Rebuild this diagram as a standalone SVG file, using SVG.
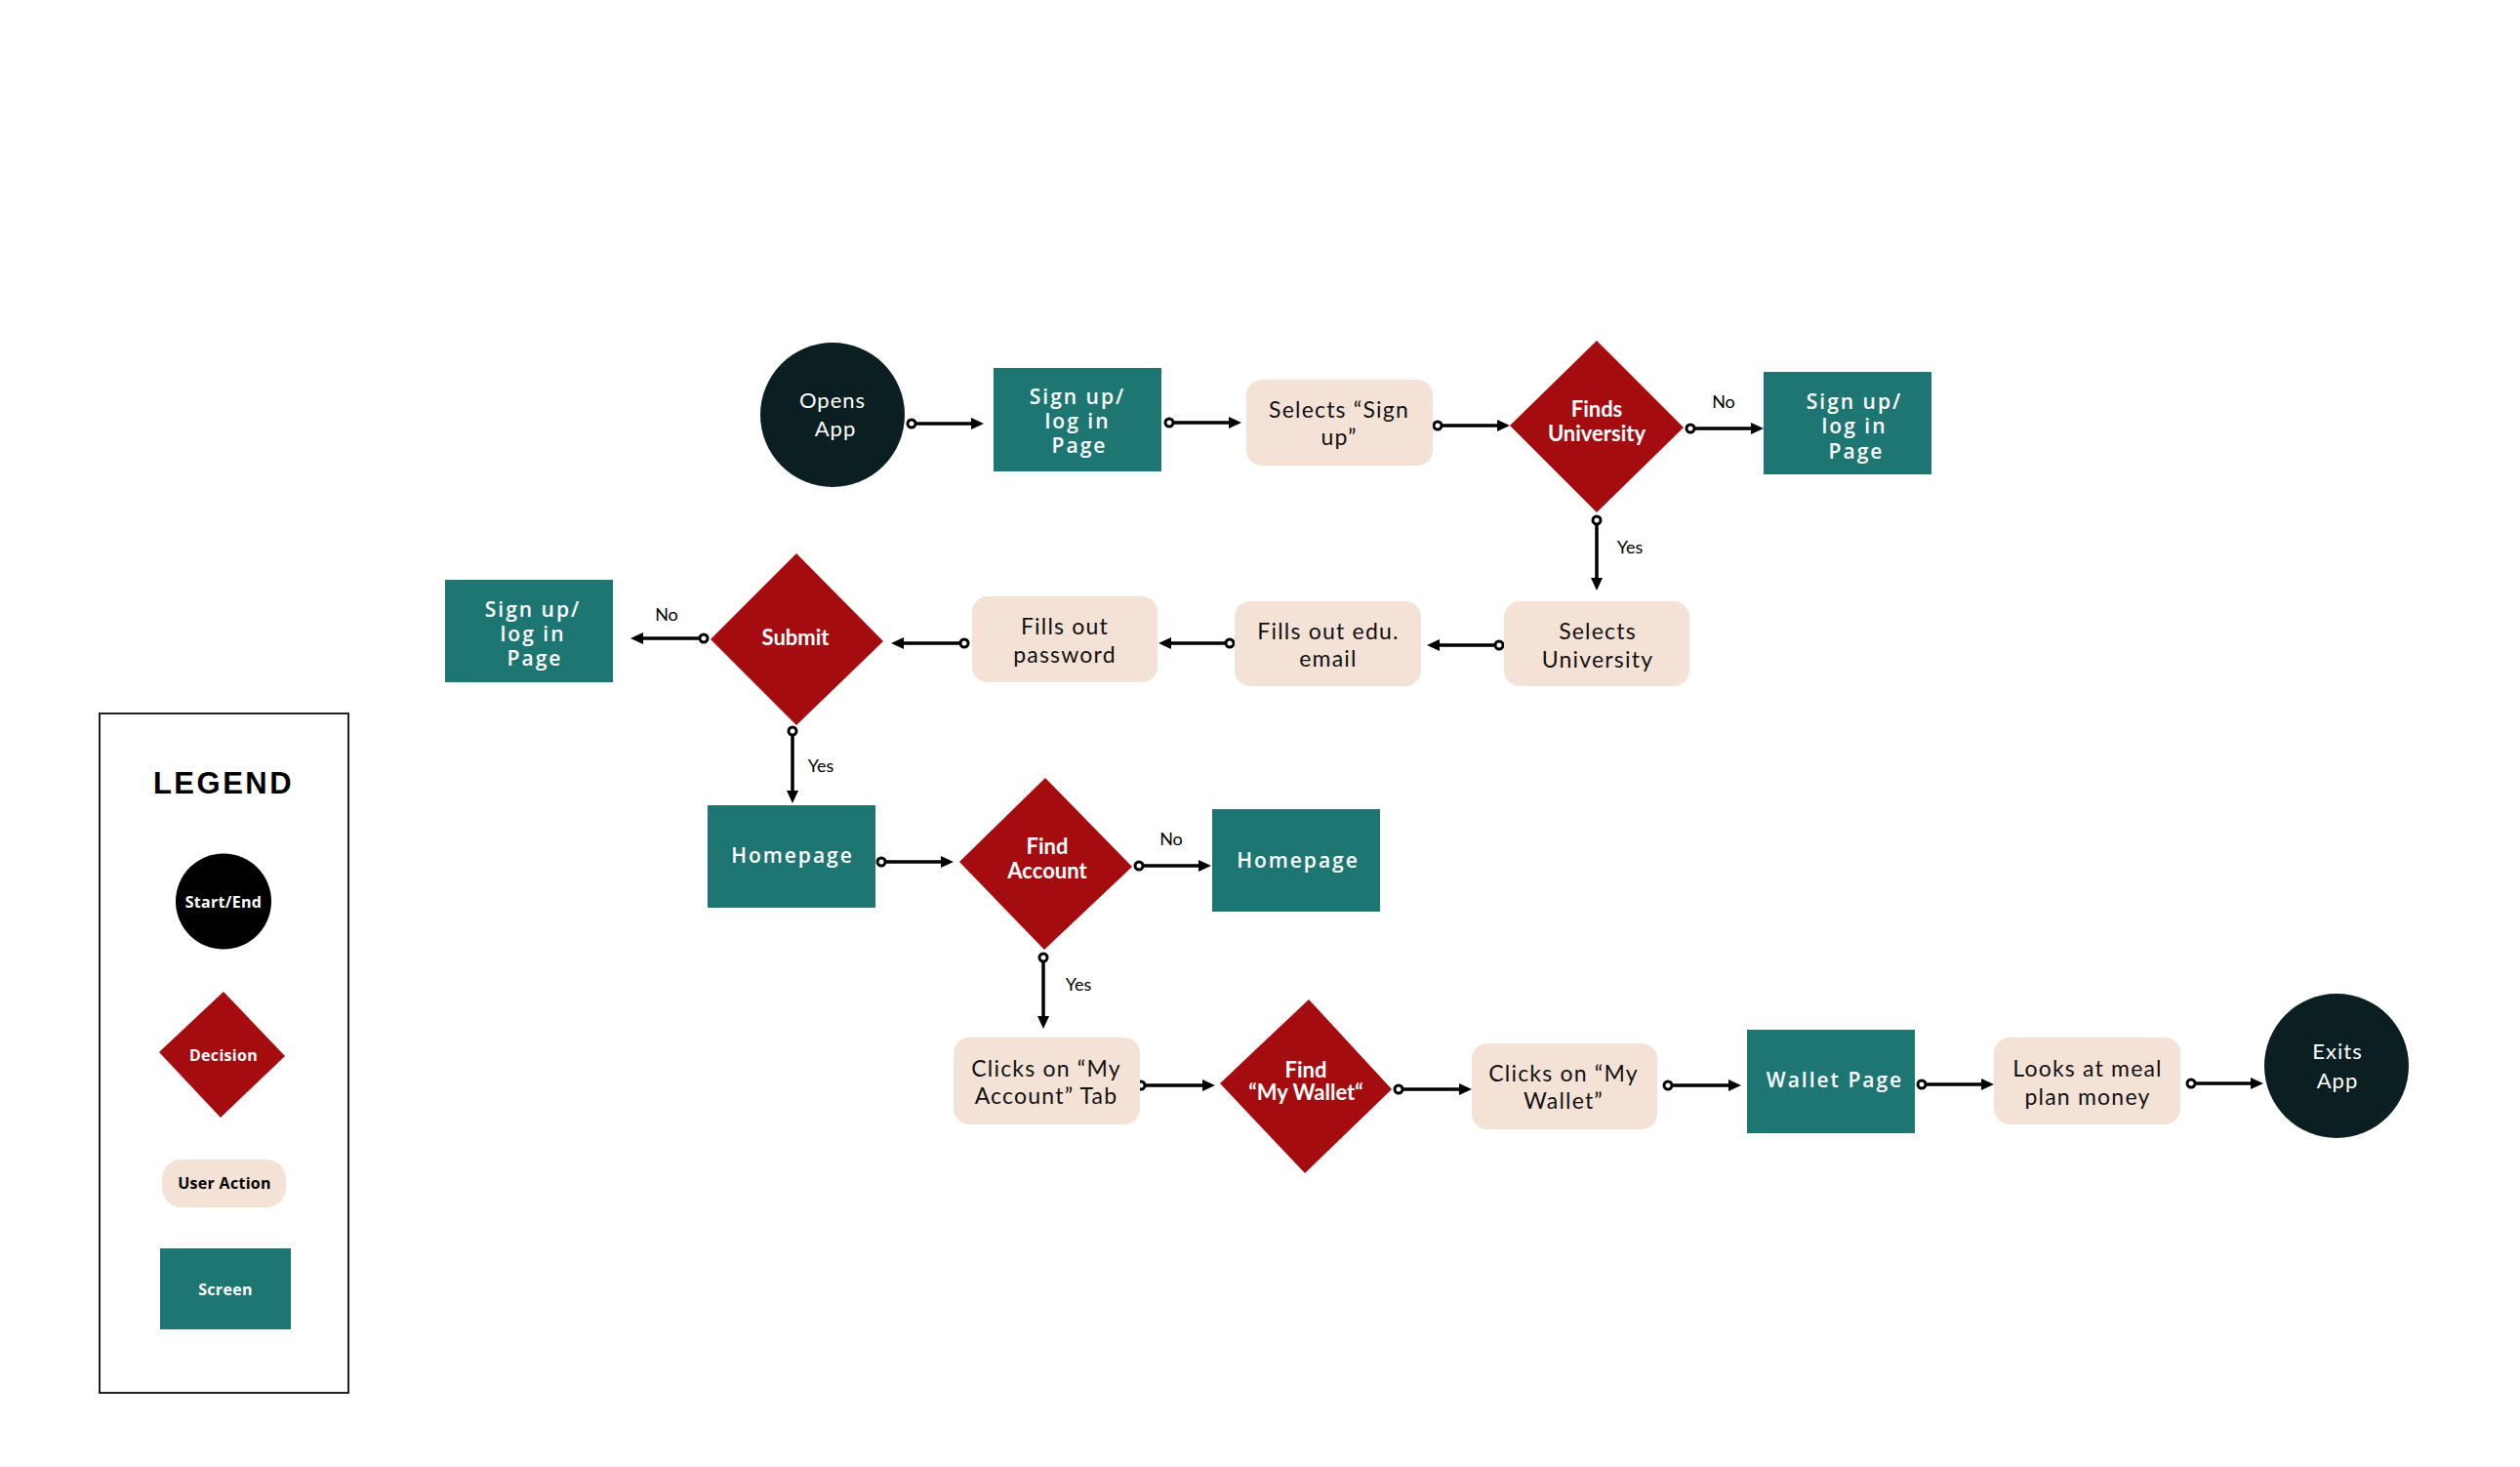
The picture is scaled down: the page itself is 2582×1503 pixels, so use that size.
<svg xmlns="http://www.w3.org/2000/svg" width="2582" height="1503" viewBox="0 0 2582 1503">
<style>
.screen{fill:#1e7672}
.action{fill:#f5e2d6}
.decision{fill:#a50c10}
.term{fill:#0b1f22}
.tS{font-family:"Open Sans","Liberation Sans",sans-serif;font-weight:600;font-size:21px;fill:#fff;letter-spacing:2px;text-anchor:middle}
.tA{font-family:Lato,"Liberation Sans",sans-serif;font-size:23px;fill:#111;text-anchor:middle;letter-spacing:1.2px}
.tD{font-family:Lato,"Liberation Sans",sans-serif;font-weight:bold;font-size:22px;fill:#fff;text-anchor:middle}
.tT{font-family:Lato,"Liberation Sans",sans-serif;font-size:22px;fill:#fff;text-anchor:middle;letter-spacing:1px}
.lbl{font-family:Lato,"Liberation Sans",sans-serif;font-size:18px;fill:#000;text-anchor:middle}
.conn{fill:none;stroke:#000;stroke-width:3.5;marker-start:url(#dot);marker-end:url(#arr)}
.lg{font-family:"Open Sans","Liberation Sans",sans-serif;font-weight:bold;font-size:16px;text-anchor:middle;letter-spacing:0.3px}
</style>
<defs>
<marker id="dot" markerUnits="userSpaceOnUse" markerWidth="14" markerHeight="14" refX="7" refY="7" viewBox="0 0 14 14" orient="auto"><circle cx="7" cy="7" r="4" fill="#fff" stroke="#000" stroke-width="3"/></marker>
<marker id="arr" markerUnits="userSpaceOnUse" markerWidth="14" markerHeight="14" refX="6" refY="7" viewBox="0 0 14 14" orient="auto"><path d="M0,1 L13,7 L0,13 z" fill="#000"/></marker>
</defs>
<rect x="0" y="0" width="2582" height="1503" fill="#fff"/>

<g id="connectors">
<path class="conn" d="M934,434 H1001"/>
<path class="conn" d="M1198,433 H1265"/>
<path class="conn" d="M1473,436 H1540"/>
<path class="conn" d="M1732,439 H1800"/>
<path class="conn" d="M1636,533 V598"/>
<path class="conn" d="M1536,661 H1469"/>
<path class="conn" d="M1260,659 H1194"/>
<path class="conn" d="M988,659 H920"/>
<path class="conn" d="M721,654 H653"/>
<path class="conn" d="M812,749 V816"/>
<path class="conn" d="M903,883 H970"/>
<path class="conn" d="M1167,887 H1234"/>
<path class="conn" d="M1069,981 V1047"/>
<path class="conn" d="M1169,1112 H1238"/>
<path class="conn" d="M1433,1116 H1501"/>
<path class="conn" d="M1709,1112 H1777"/>
<path class="conn" d="M1969,1111 H2036"/>
<path class="conn" d="M2245,1110 H2312"/>
<text class="lbl" x="1766" y="418">No</text>
<text class="lbl" x="1670" y="567">Yes</text>
<text class="lbl" x="683" y="636">No</text>
<text class="lbl" x="841" y="791">Yes</text>
<text class="lbl" x="1200" y="866">No</text>
<text class="lbl" x="1105" y="1015">Yes</text>
</g>

<g id="opens-app">
<circle class="term" cx="853" cy="425" r="74"/>
<text class="tT" x="853" y="418">Opens</text>
<text class="tT" x="856" y="447">App</text>
</g>
<g id="signup-page-1">
<rect class="screen" x="1018" y="377" width="172" height="106"/>
<text class="tS" x="1104" y="414">Sign up/</text>
<text class="tS" x="1104" y="439">log in</text>
<text class="tS" x="1106" y="464">Page</text>
</g>
<g id="selects-signup">
<rect class="action" x="1277" y="389" width="191" height="88" rx="16"/>
<text class="tA" x="1372" y="428">Selects “Sign</text>
<text class="tA" x="1372" y="456">up”</text>
</g>
<g id="finds-university">
<polygon class="decision" points="1636,349 1725,438 1636,525 1547,436"/>
<text class="tD" x="1636" y="427">Finds</text>
<text class="tD" x="1636" y="452">University</text>
</g>
<g id="signup-page-2">
<rect class="screen" x="1807" y="381" width="172" height="105"/>
<text class="tS" x="1900" y="419">Sign up/</text>
<text class="tS" x="1900" y="444">log in</text>
<text class="tS" x="1902" y="470">Page</text>
</g>
<g id="selects-university">
<rect class="action" x="1541" y="616" width="190" height="87" rx="16"/>
<text class="tA" x="1637" y="655">Selects</text>
<text class="tA" x="1637" y="684">University</text>
</g>
<g id="fills-email">
<rect class="action" x="1265" y="616" width="191" height="87" rx="16"/>
<text class="tA" x="1361" y="655">Fills out edu.</text>
<text class="tA" x="1361" y="683">email</text>
</g>
<g id="fills-password">
<rect class="action" x="996" y="611" width="190" height="88" rx="16"/>
<text class="tA" x="1091" y="650">Fills out</text>
<text class="tA" x="1091" y="679">password</text>
</g>
<g id="submit">
<polygon class="decision" points="816,567 905,657 816,743 728,655"/>
<text class="tD" x="815" y="661">Submit</text>
</g>
<g id="signup-page-3">
<rect class="screen" x="456" y="594" width="172" height="105"/>
<text class="tS" x="546" y="632">Sign up/</text>
<text class="tS" x="546" y="657">log in</text>
<text class="tS" x="548" y="682">Page</text>
</g>
<g id="homepage-1">
<rect class="screen" x="725" y="825" width="172" height="105"/>
<text class="tS" x="812" y="884">Homepage</text>
</g>
<g id="find-account">
<polygon class="decision" points="1071,797 1160,888 1070,973 983,883"/>
<text class="tD" x="1073" y="875">Find</text>
<text class="tD" x="1073" y="900">Account</text>
</g>
<g id="homepage-2">
<rect class="screen" x="1242" y="829" width="172" height="105"/>
<text class="tS" x="1330" y="889">Homepage</text>
</g>
<g id="clicks-my-account">
<rect class="action" x="977" y="1063" width="191" height="89" rx="16"/>
<text class="tA" x="1072" y="1103">Clicks on “My</text>
<text class="tA" x="1072" y="1131">Account” Tab</text>
</g>
<g id="find-my-wallet">
<polygon class="decision" points="1341,1024 1426,1116 1337,1202 1250,1110"/>
<text class="tD" x="1338" y="1104">Find</text>
<text class="tD" x="1338" y="1127">“My Wallet“</text>
</g>
<g id="clicks-my-wallet">
<rect class="action" x="1508" y="1069" width="190" height="88" rx="16"/>
<text class="tA" x="1602" y="1108">Clicks on “My</text>
<text class="tA" x="1602" y="1136">Wallet”</text>
</g>
<g id="wallet-page">
<rect class="screen" x="1790" y="1055" width="172" height="106"/>
<text class="tS" x="1880" y="1114">Wallet Page</text>
</g>
<g id="looks-at-meal">
<rect class="action" x="2043" y="1063" width="191" height="89" rx="16"/>
<text class="tA" x="2139" y="1103">Looks at meal</text>
<text class="tA" x="2139" y="1132">plan money</text>
</g>
<g id="exits-app">
<circle class="term" cx="2394" cy="1092" r="74"/>
<text class="tT" x="2395" y="1085">Exits</text>
<text class="tT" x="2395" y="1115">App</text>
</g>

<g id="legend">
<rect x="102" y="731" width="255" height="696" fill="#fff" stroke="#222" stroke-width="2"/>
<text x="229" y="813" font-family="'Liberation Sans',Arial,sans-serif" font-weight="bold" font-size="31" letter-spacing="2.5" text-anchor="middle" fill="#000">LEGEND</text>
<circle cx="229" cy="923.5" r="49" fill="#000"/>
<text class="lg" x="229" y="930" fill="#fff">Start/End</text>
<polygon points="229,1016 292,1082 226,1145 163,1078" fill="#a50c10"/>
<text class="lg" x="229" y="1087" fill="#fff">Decision</text>
<rect x="166" y="1188" width="127" height="49" rx="20" fill="#f5e2d6"/>
<text class="lg" x="230" y="1218" fill="#000">User Action</text>
<rect x="164" y="1279" width="134" height="83" fill="#1e7672"/>
<text class="lg" x="231" y="1327" fill="#fff">Screen</text>
</g>
</svg>
